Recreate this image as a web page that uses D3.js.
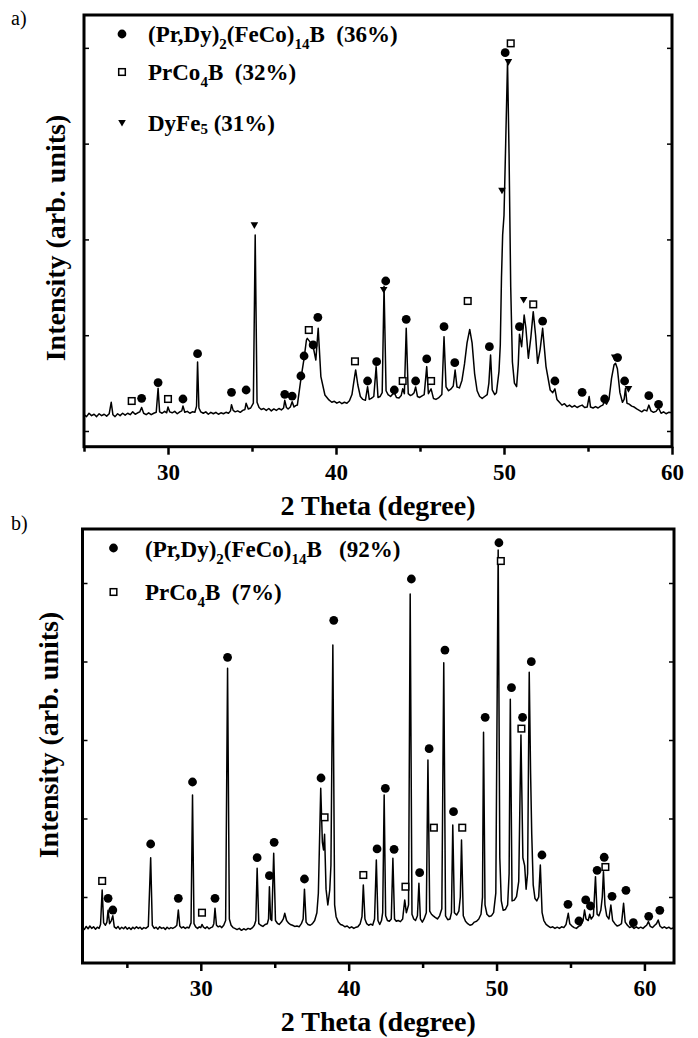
<!DOCTYPE html>
<html>
<head>
<meta charset="utf-8">
<script src="https://cdn.jsdelivr.net/npm/d3@7"></script>
<style>
  body { margin: 0; background: #fff; }
  text { font-family: "Liberation Serif", "Times New Roman", serif; }
</style>
</head>
<body>
<div id="general"></div>
<script>
const w = 698, h = 1038;

// ---- panel a : 2theta, intensity (arb.) ----
const patternA = [[25.0,170],[25.15,150],[25.3,185],[25.45,160],[25.6,175],[25.75,150],[25.9,180],[26.05,160],[26.2,175],[26.35,155],[26.5,180],[26.62,300],[26.72,170],[26.85,150],[27.0,180],[27.15,160],[27.3,185],[27.45,165],[27.6,185],[27.75,170],[27.9,200],[28.05,175],[28.2,190],[28.32,200],[28.43,245],[28.55,185],[28.7,170],[28.85,190],[29.0,170],[29.15,185],[29.3,195],[29.41,445],[29.5,200],[29.65,185],[29.8,205],[29.92,190],[30.0,250],[30.1,200],[30.25,190],[30.4,205],[30.55,180],[30.7,200],[30.82,210],[30.89,260],[31.0,195],[31.15,205],[31.3,185],[31.45,200],[31.6,195],[31.7,260],[31.76,720],[31.84,240],[31.95,200],[32.1,185],[32.25,200],[32.4,175],[32.55,195],[32.7,180],[32.85,195],[33.0,175],[33.15,190],[33.3,180],[33.45,195],[33.6,185],[33.72,210],[33.78,275],[33.88,215],[34.0,200],[34.15,210],[34.3,195],[34.45,215],[34.58,225],[34.65,290],[34.78,230],[34.92,240],[35.08,290],[35.19,2046],[35.3,300],[35.42,245],[35.55,225],[35.7,235],[35.85,215],[36.0,235],[36.15,210],[36.3,230],[36.45,215],[36.6,235],[36.75,220],[36.88,240],[36.95,320],[37.05,245],[37.15,230],[37.28,250],[37.39,305],[37.5,250],[37.6,265],[37.7,271],[37.93,567],[38.1,759],[38.24,950],[38.29,967],[38.52,915],[38.64,880],[38.8,741],[38.94,1072],[39.1,567],[39.34,376],[39.58,324],[39.75,300],[39.9,310],[40.05,290],[40.2,305],[40.35,285],[40.5,300],[40.65,290],[40.8,315],[40.95,380],[41.05,500],[41.17,637],[41.3,480],[41.45,360],[41.6,330],[41.75,320],[41.88,463],[41.98,330],[42.1,340],[42.25,360],[42.39,672],[42.5,350],[42.62,360],[42.75,400],[42.86,1510],[42.98,420],[43.1,380],[43.25,360],[43.35,380],[43.47,400],[43.6,350],[43.75,345],[43.88,370],[43.97,440],[44.07,390],[44.18,1072],[44.3,390],[44.42,370],[44.55,380],[44.65,400],[44.74,460],[44.85,360],[44.98,350],[45.1,365],[45.25,380],[45.4,672],[45.5,390],[45.66,440],[45.8,340],[45.95,330],[46.1,345],[46.3,380],[46.43,985],[46.55,460],[46.7,420],[46.85,440],[46.98,470],[47.09,637],[47.2,460],[47.35,450],[47.5,530],[47.65,700],[47.8,920],[47.96,1060],[48.1,920],[48.25,600],[48.4,420],[48.55,360],[48.7,340],[48.85,360],[49.0,380],[49.1,500],[49.2,793],[49.3,430],[49.45,380],[49.55,400],[49.7,620],[49.78,900],[49.85,1600],[49.92,2050],[50.0,2250],[50.1,3000],[50.21,3856],[50.3,2900],[50.4,1500],[50.5,720],[50.62,500],[50.75,463],[50.85,700],[50.92,1010],[51.05,880],[51.2,1211],[51.3,1080],[51.45,759],[51.6,980],[51.74,1246],[51.88,1000],[52.0,706],[52.15,850],[52.3,1072],[52.5,672],[52.75,428],[52.9,400],[53.03,440],[53.15,330],[53.3,300],[53.45,270],[53.6,285],[53.75,255],[53.9,270],[54.05,250],[54.2,265],[54.35,245],[54.5,260],[54.65,270],[54.8,245],[54.95,250],[55.07,360],[55.15,250],[55.3,240],[55.45,255],[55.6,240],[55.75,260],[55.88,270],[55.99,310],[56.1,280],[56.25,330],[56.4,550],[56.55,690],[56.64,706],[56.75,650],[56.9,400],[57.05,300],[57.15,330],[57.23,445],[57.32,290],[57.45,280],[57.6,260],[57.75,250],[57.9,230],[58.05,215],[58.2,200],[58.35,220],[58.5,210],[58.62,270],[58.75,210],[58.9,195],[59.05,205],[59.2,240],[59.35,185],[59.5,200],[59.65,180],[59.8,195],[60.0,190]];

const phiA = [[28.43,341],[29.41,505],[30.89,334],[31.76,807],[33.78,404],[34.65,428],[36.95,383],[37.39,365],[37.91,574],[38.10,783],[38.64,898],[38.92,1187],[41.88,522],[42.42,724],[42.96,1566],[43.47,428],[44.18,1166],[44.74,522],[45.40,752],[46.43,1089],[47.07,713],[49.13,880],[50.07,3950],[50.92,1089],[52.30,1148],[53.03,522],[54.65,404],[55.99,334],[56.76,766],[57.18,522],[58.62,369],[59.20,278]];
const prcoA = [[27.84,313],[30.0,334],[38.38,1054],[41.13,727],[43.97,522],[45.66,522],[47.84,1357],[50.40,4047],[51.74,1322]];
const dyfeA = [[35.14,2147],[42.84,1472],[49.88,2509],[50.26,3852],[51.17,1368],[56.59,766],[57.41,438]];

// ---- panel b ----
const patternB = [[22.0,610],[22.12,585],[22.25,625],[22.38,595],[22.5,630],[22.62,600],[22.75,620],[22.88,590],[23.0,615],[23.12,600],[23.22,650],[23.33,1090],[23.43,670],[23.55,640],[23.65,680],[23.73,830],[23.83,660],[23.95,700],[24.05,760],[24.15,620],[24.28,600],[24.4,625],[24.52,590],[24.65,615],[24.78,595],[24.9,620],[25.02,590],[25.15,610],[25.28,585],[25.4,615],[25.52,595],[25.65,620],[25.78,600],[25.9,615],[26.02,590],[26.15,610],[26.28,600],[26.45,625],[26.61,1500],[26.72,640],[26.85,600],[26.98,615],[27.1,590],[27.22,620],[27.35,600],[27.48,610],[27.6,585],[27.72,615],[27.85,595],[27.98,610],[28.1,600],[28.25,615],[28.38,640],[28.48,834],[28.58,630],[28.7,605],[28.82,620],[28.95,600],[29.08,615],[29.2,605],[29.34,670],[29.44,2300],[29.54,660],[29.65,620],[29.78,600],[29.9,620],[30.0,610],[30.08,650],[30.18,615],[30.3,600],[30.42,620],[30.55,595],[30.68,610],[30.8,620],[30.88,660],[30.96,856],[31.06,640],[31.18,620],[31.3,630],[31.42,610],[31.55,640],[31.68,700],[31.81,3913],[31.93,720],[32.05,640],[32.18,610],[32.3,600],[32.45,585],[32.6,600],[32.75,575],[32.9,595],[33.05,580],[33.2,600],[33.35,590],[33.5,610],[33.62,640],[33.72,700],[33.81,1365],[33.92,660],[34.05,640],[34.2,625],[34.35,650],[34.5,660],[34.58,720],[34.64,1131],[34.72,720],[34.8,700],[34.93,1556],[35.05,700],[35.18,665],[35.3,650],[35.45,680],[35.58,720],[35.68,792],[35.8,700],[35.92,670],[36.05,650],[36.2,640],[36.35,625],[36.5,630],[36.65,620],[36.8,660],[36.92,720],[37.01,1100],[37.12,680],[37.25,650],[37.4,640],[37.55,660],[37.7,700],[37.85,800],[37.95,1047],[38.11,2384],[38.22,1700],[38.3,1600],[38.37,1800],[38.47,1100],[38.59,898],[38.72,1089],[38.8,1400],[38.93,4210],[39.05,900],[39.15,749],[39.3,680],[39.45,650],[39.6,640],[39.75,620],[39.9,630],[40.05,605],[40.2,620],[40.35,600],[40.5,615],[40.62,620],[40.78,660],[40.9,750],[40.99,1153],[41.1,720],[41.22,660],[41.35,640],[41.5,655],[41.62,640],[41.75,720],[41.87,1471],[41.98,700],[42.1,650],[42.22,700],[42.3,800],[42.4,2299],[42.5,760],[42.62,700],[42.75,690],[42.88,720],[42.99,1493],[43.1,720],[43.22,690],[43.35,700],[43.5,686],[43.65,720],[43.79,962],[43.9,800],[44.05,900],[44.16,4860],[44.28,780],[44.4,720],[44.52,700],[44.65,760],[44.75,1174],[44.85,720],[44.98,680],[45.1,720],[45.25,800],[45.36,2745],[45.48,820],[45.6,780],[45.72,760],[45.85,740],[46.0,720],[46.15,760],[46.3,850],[46.43,3985],[46.55,760],[46.7,710],[46.85,720],[46.95,800],[47.04,1917],[47.15,800],[47.3,770],[47.45,820],[47.55,1000],[47.63,1726],[47.75,760],[47.9,690],[48.05,660],[48.2,640],[48.35,650],[48.5,680],[48.65,690],[48.8,720],[48.95,780],[49.05,1000],[49.12,3098],[49.22,900],[49.35,780],[49.5,750],[49.65,760],[49.8,800],[49.95,1050],[50.11,5420],[50.22,1500],[50.32,950],[50.45,830],[50.6,840],[50.75,900],[50.85,1300],[50.93,3518],[51.05,950],[51.2,960],[51.35,1004],[51.5,1200],[51.65,3064],[51.78,1500],[51.9,1400],[52.0,1100],[52.1,1300],[52.21,3862],[52.3,2600],[52.38,1800],[52.48,1150],[52.6,980],[52.72,950],[52.85,1000],[52.96,1408],[53.08,800],[53.2,700],[53.35,650],[53.5,630],[53.65,610],[53.8,620],[53.95,600],[54.1,615],[54.25,600],[54.4,620],[54.55,610],[54.7,650],[54.85,792],[54.95,660],[55.1,630],[55.25,610],[55.4,600],[55.55,625],[55.7,640],[55.85,700],[55.95,834],[56.05,720],[56.2,700],[56.3,780],[56.4,720],[56.55,760],[56.69,1259],[56.8,780],[56.92,760],[57.05,830],[57.15,1000],[57.23,1323],[57.33,900],[57.45,760],[57.6,720],[57.73,898],[57.85,700],[58.0,660],[58.15,630],[58.3,640],[58.45,660],[58.59,919],[58.7,680],[58.85,640],[59.0,610],[59.15,625],[59.3,600],[59.45,620],[59.6,600],[59.75,615],[59.9,600],[60.05,625],[60.15,640],[60.27,686],[60.4,625],[60.55,610],[60.7,640],[60.82,660],[60.93,707],[61.05,630],[61.2,605],[61.35,620],[61.5,600],[61.65,615],[61.8,595],[62.0,610]];

const phiB = [[23.73,983],[24.05,834],[26.61,1675],[28.48,983],[29.44,2465],[30.96,983],[31.81,4053],[33.81,1501],[34.64,1271],[34.96,1696],[37.01,1229],[38.13,2516],[38.99,4524],[41.92,1612],[42.48,2384],[43.07,1607],[44.24,5051],[44.80,1310],[45.44,2889],[46.51,4146],[47.09,2087],[49.23,3289],[50.16,5513],[51.01,3666],[51.76,3289],[52.35,3998],[53.07,1535],[54.83,906],[55.57,694],[56.03,962],[56.35,885],[56.80,1340],[57.28,1506],[57.81,1009],[58.75,1085],[59.25,673],[60.29,754],[61.04,830]];
const prcoB = [[23.33,1204],[30.08,800],[38.37,2015],[40.99,1280],[43.84,1131],[45.76,1883],[47.68,1883],[50.29,5280],[51.68,3145],[57.36,1382]];

const xMajor = [30, 40, 50, 60];
const xMinor = [25, 35, 45, 55];
const yTicksA = [0, 1000, 2000, 3000, 4000];
const yTicksB = [1000, 2000, 3000, 4000, 5000];

const legendA = [
  { sym: "circle", parts: [["(Pr,Dy)",0],["2",1],["(FeCo)",0],["14",1],["B  (36%)",0]] },
  { sym: "square", parts: [["PrCo",0],["4",1],["B  (32%)",0]] },
  { sym: "triangle", parts: [["DyFe",0],["5",2],[" (31%)",0]] }
];
const legendB = [
  { sym: "circle", parts: [["(Pr,Dy)",0],["2",1],["(FeCo)",0],["14",1],["B   (92%)",0]] },
  { sym: "square", parts: [["PrCo",0],["4",1],["B  (7%)",0]] }
];

const svg = d3.select("#general").append("svg").attr("width", w).attr("height", h);

function drawMarker(g, sym, cx, cy) {
  if (sym === "circle") {
    g.append("circle").attr("cx", cx).attr("cy", cy).attr("r", 4.4).attr("fill", "#000");
  } else if (sym === "square") {
    g.append("rect").attr("x", cx - 3.3).attr("y", cy - 3.3).attr("width", 6.6).attr("height", 6.6)
      .attr("fill", "#fff").attr("stroke", "#000").attr("stroke-width", 1.5);
  } else {
    g.append("path").attr("d", `M${cx - 3.8},${cy - 3}L${cx + 3.8},${cy - 3}L${cx},${cy + 3.6}Z`).attr("fill", "#000");
  }
}

function makePanel(p) {
  const x = d3.scaleLinear().domain(p.xDomain).range([p.l, p.r]);
  const y = d3.scaleLinear().domain(p.yDomain).range([p.b, p.t]);
  const g = svg.append("g");

  // pattern
  g.append("path")
    .datum(p.pattern)
    .attr("d", d3.line().x(d => x(d[0])).y(d => y(d[1])))
    .attr("fill", "none").attr("stroke", "#000").attr("stroke-width", 1.5).attr("stroke-linejoin", "round");

  // phase markers
  p.markers.forEach(([sym, pts]) => pts.forEach(d => drawMarker(g, sym, x(d[0]), y(d[1]))));

  // x axis
  const ax = g.append("g").attr("transform", `translate(0,${p.b})`)
    .call(d3.axisBottom(x).tickValues(xMajor).tickSize(8).tickSizeOuter(0).tickPadding(9).tickFormat(d3.format("d")));
  ax.select(".domain").remove();
  ax.selectAll("line").attr("stroke-width", 2.5);
  ax.selectAll("text").attr("font-size", 23).attr("font-weight", "bold").attr("fill", "#000")
    .style("font-family", "'Liberation Serif', serif");
  const axm = g.append("g").attr("transform", `translate(0,${p.b})`)
    .call(d3.axisBottom(x).tickValues(xMinor).tickSize(5).tickSizeOuter(0).tickFormat(""));
  axm.select(".domain").remove();
  axm.selectAll("line").attr("stroke-width", 2.5);

  // y ticks (no labels), both frame sides
  [[p.l, d3.axisLeft], [p.r, d3.axisRight]].forEach(([pos, axis]) => {
    const a = g.append("g").attr("transform", `translate(${pos},0)`)
      .call(axis(y).tickValues(p.yTicks).tickSize(-5).tickSizeOuter(0).tickFormat(""));
    a.select(".domain").remove();
    a.selectAll("line").attr("stroke-width", 1.5);
  });

  // frame
  g.append("rect").attr("x", p.l).attr("y", p.t).attr("width", p.r - p.l).attr("height", p.b - p.t)
    .attr("fill", "none").attr("stroke", "#000").attr("stroke-width", 3);

  // legend
  p.legend.forEach((item, i) => {
    drawMarker(g, item.sym, p.legX, p.legY[i]);
    const t = g.append("text").attr("x", p.legTextX).attr("y", p.legY[i] + p.legDy[i])
      .attr("font-size", 23).attr("font-weight", "bold").style("white-space", "pre");
    let shift = 0;
    item.parts.forEach(([s, sub]) => {
      const want = sub === 1 ? 7 : sub === 2 ? 3 : 0;
      t.append("tspan").attr("dy", want - shift).attr("font-size", sub ? 15 : 23).text(s);
      shift = want;
    });
  });

  // titles
  svg.append("text").attr("x", (p.l + p.r) / 2).attr("y", p.xTitleY).attr("text-anchor", "middle")
    .attr("font-size", 28).attr("font-weight", "bold").text("2 Theta (degree)");
  svg.append("text").attr("transform", `translate(${p.yTitleX},${p.yTitleCy}) rotate(-90)`)
    .attr("text-anchor", "middle").attr("font-size", 28).attr("font-weight", "bold").text("Intensity (arb. units)");
  svg.append("text").attr("x", 11).attr("y", p.tagY).attr("font-size", 20).text(p.tag);
}

makePanel({
  tag: "a)", tagY: 25,
  l: 84, r: 672, t: 15, b: 446.7,
  xDomain: [25, 60], yDomain: [-164, 4343], yTicks: yTicksA,
  pattern: patternA,
  markers: [["circle", phiA], ["square", prcoA], ["triangle", dyfeA]],
  legend: legendA, legX: 122, legY: [34, 72, 123], legDy: [8, 8, 8], legTextX: 148,
  xTitleY: 515, yTitleX: 65, yTitleCy: 238
});

makePanel({
  tag: "b)", tagY: 530,
  l: 82.5, r: 674, t: 529, b: 963,
  xDomain: [22, 62], yDomain: [159, 5688], yTicks: yTicksB,
  pattern: patternB,
  markers: [["circle", phiB], ["square", prcoB]],
  legend: legendB, legX: 113.5, legY: [548, 592], legDy: [9, 8], legTextX: 145,
  xTitleY: 1031, yTitleX: 58, yTitleCy: 735
});
</script>
</body>
</html>
